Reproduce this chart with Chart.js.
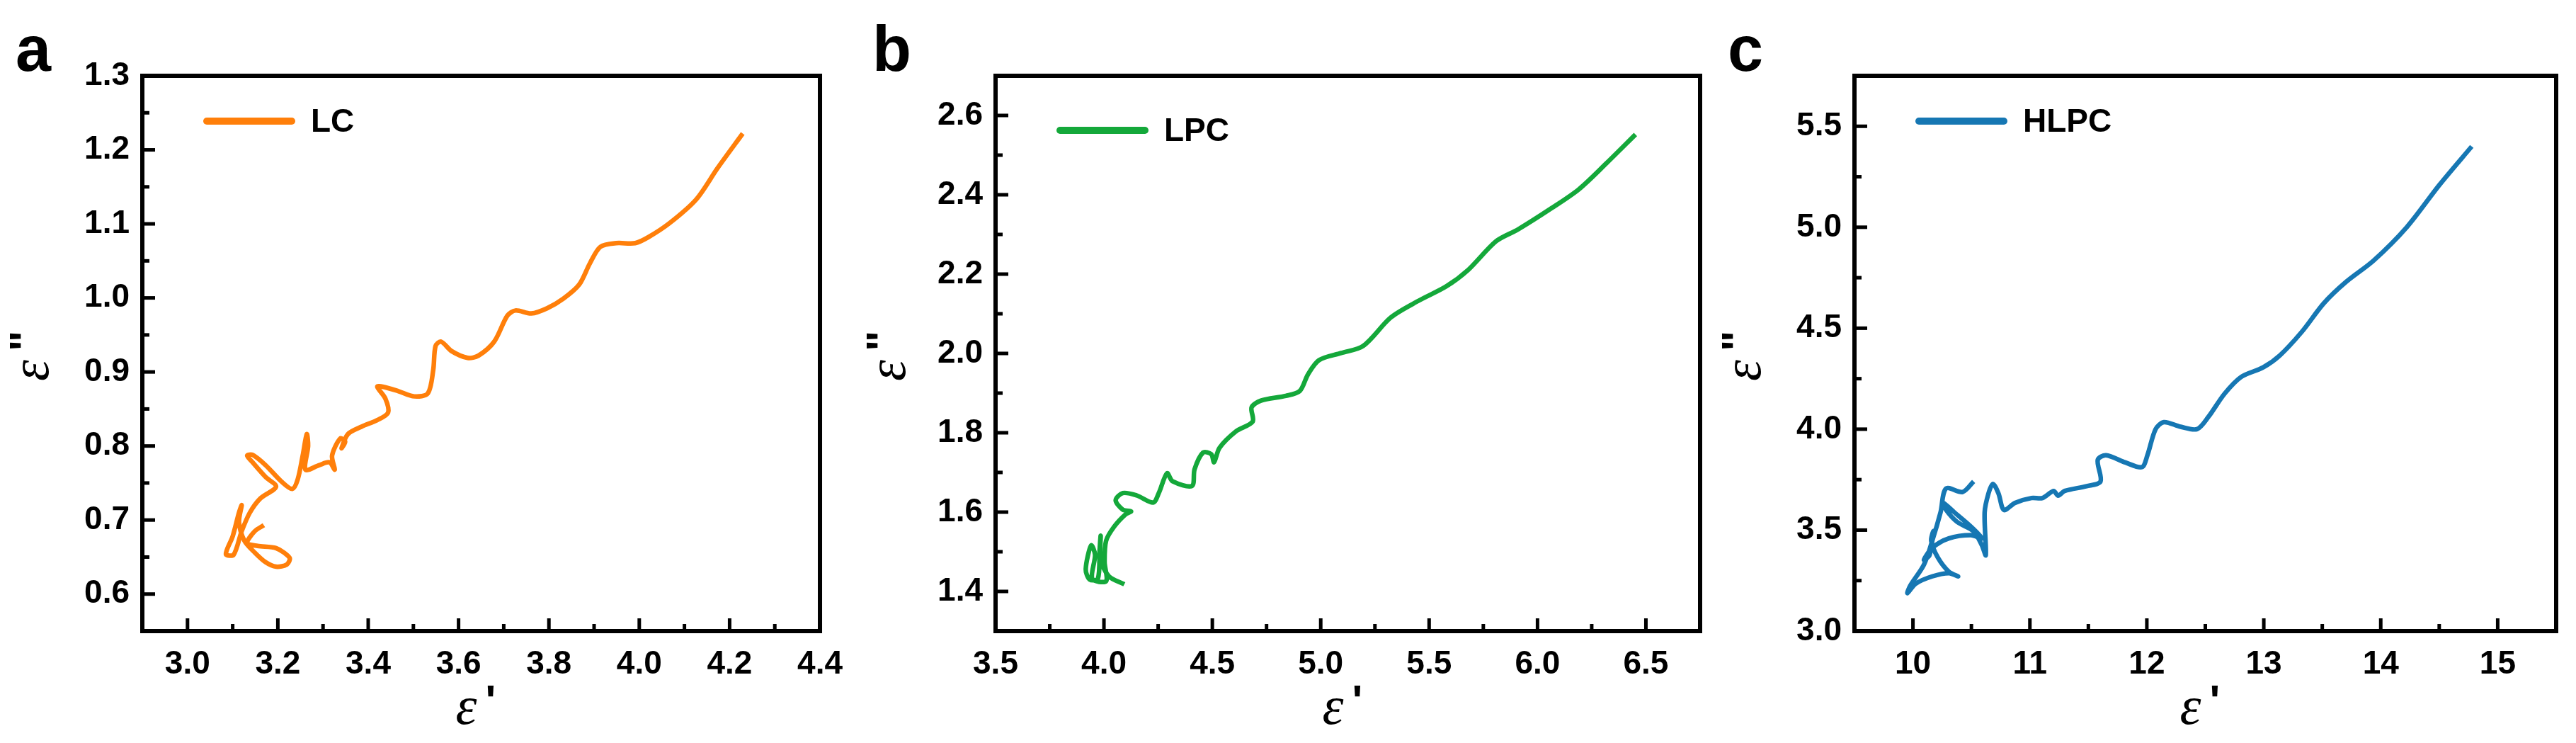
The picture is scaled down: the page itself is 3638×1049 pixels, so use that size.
<!DOCTYPE html>
<html><head><meta charset="utf-8">
<script src="https://cdn.jsdelivr.net/npm/chart.js@4"></script>
<style>body{margin:0;background:#fff;width:3638px;height:1049px;position:relative;overflow:hidden}
.p{position:absolute;top:0;height:1049px}</style></head><body>
<div class="p" style="left:0;width:1210px"><canvas id="ca"></canvas></div>
<div class="p" style="left:1210px;width:1210px"><canvas id="cb"></canvas></div>
<div class="p" style="left:2418px;width:1220px"><canvas id="cc"></canvas></div>
<script>
// Panel a (LC)
const lcX=[3.169,3.149,3.132,3.155,3.196,3.226,3.220,3.196,3.173,3.149,3.126,3.114,3.120,3.114,3.100,3.085,3.102,3.120,3.138,3.161,3.196,3.173,3.144,3.132,3.144,3.173,3.208,3.232,3.244,3.255,3.264,3.267,3.261,3.291,3.314,3.326,3.320,3.338,3.349,3.341,3.355,3.385,3.420,3.444,3.438,3.420,3.432,3.467,3.502,3.532,3.544,3.549,3.561,3.585,3.620,3.644,3.679,3.708,3.726,3.761,3.796,3.832,3.867,3.891,3.914,3.949,3.991,4.020,4.067,4.126,4.173,4.229];
const lcY=[0.693,0.685,0.669,0.665,0.662,0.649,0.640,0.637,0.643,0.656,0.672,0.697,0.720,0.710,0.678,0.654,0.653,0.685,0.710,0.729,0.745,0.758,0.778,0.787,0.788,0.774,0.752,0.742,0.755,0.787,0.816,0.800,0.768,0.774,0.778,0.768,0.787,0.810,0.806,0.797,0.816,0.826,0.835,0.845,0.864,0.880,0.880,0.874,0.867,0.871,0.903,0.935,0.941,0.928,0.919,0.922,0.941,0.976,0.983,0.979,0.986,0.999,1.018,1.047,1.069,1.074,1.074,1.082,1.101,1.133,1.175,1.222];
// Panel b (LPC)
const lpcX=[4.094,4.023,3.985,3.985,3.980,3.972,3.934,3.916,3.941,3.959,3.946,4.010,4.003,4.010,4.048,4.099,4.125,4.087,4.054,4.087,4.151,4.227,4.253,4.291,4.316,4.406,4.418,4.457,4.495,4.508,4.533,4.610,4.686,4.681,4.724,4.839,4.903,4.941,4.992,5.094,5.196,5.324,5.452,5.579,5.681,5.809,5.911,6.064,6.191,6.319,6.452];
const lpcY=[1.418,1.438,1.480,1.540,1.504,1.432,1.430,1.456,1.516,1.492,1.432,1.426,1.474,1.528,1.564,1.594,1.602,1.606,1.630,1.648,1.642,1.624,1.648,1.698,1.678,1.666,1.708,1.750,1.746,1.726,1.762,1.804,1.828,1.864,1.881,1.893,1.905,1.947,1.983,2.001,2.019,2.091,2.133,2.169,2.211,2.283,2.313,2.366,2.414,2.480,2.552];
// Panel c (HLPC)
const hlpcX=[10.519,10.425,10.283,10.236,10.165,10.094,9.976,9.953,10.024,10.165,10.307,10.387,10.307,10.212,10.156,10.175,10.142,10.094,10.165,10.307,10.495,10.590,10.495,10.354,10.259,10.283,10.377,10.519,10.590,10.623,10.613,10.646,10.684,10.731,10.778,10.873,11.014,11.108,11.203,11.241,11.297,11.486,11.604,11.580,11.651,11.816,11.958,12.005,12.075,12.146,12.288,12.429,12.524,12.665,12.807,12.995,13.137,13.325,13.514,13.703,13.939,14.222,14.505,14.778];
const hlpcY=[3.741,3.689,3.706,3.588,3.447,3.329,3.224,3.188,3.235,3.271,3.287,3.271,3.294,3.365,3.447,3.494,3.376,3.353,3.412,3.459,3.475,3.459,3.518,3.588,3.635,3.600,3.541,3.494,3.424,3.376,3.588,3.682,3.729,3.682,3.600,3.635,3.659,3.659,3.694,3.671,3.694,3.718,3.741,3.847,3.871,3.835,3.812,3.871,4.000,4.035,4.012,4.000,4.059,4.176,4.259,4.306,4.365,4.482,4.624,4.729,4.835,5.000,5.212,5.400];
// Tick labels
const xTicksA=[3.0,3.2,3.4,3.6,3.8,4.0,4.2,4.4], yTicksA=[0.6,0.7,0.8,0.9,1.0,1.1,1.2,1.3];
const xTicksB=[3.5,4.0,4.5,5.0,5.5,6.0,6.5], yTicksB=[1.4,1.6,1.8,2.0,2.2,2.4,2.6];
const xTicksC=[10,11,12,13,14,15], yTicksC=[3.0,3.5,4.0,4.5,5.0,5.5];

const FONT='"Liberation Sans", Arial, sans-serif';
function make(id,cfg){
  const pts=cfg.xs.map((x,i)=>({x,y:cfg.ys[i]}));
  const deco={id:'deco',afterDraw(ch){
    const c=ch.ctx,a=ch.chartArea,xs=ch.scales.x,ys=ch.scales.y;
    c.save();c.strokeStyle='#000';c.lineWidth=6;
    c.strokeRect(a.left,a.top,a.right-a.left,a.bottom-a.top);
    c.lineWidth=5;
    const xm=cfg.xt, ym=cfg.yt, xs2=(xm[1]-xm[0])/2, ys2=(ym[1]-ym[0])/2;
    for(let v=xm[0]-xs2;v<=xs.max+1e-9;v+=xs2){if(v<xs.min-1e-9)continue;
      const major=xm.some(t=>Math.abs(t-v)<1e-6);const p=xs.getPixelForValue(v);
      c.beginPath();c.moveTo(p,a.bottom);c.lineTo(p,a.bottom-(major?18:10));c.stroke();}
    for(let v=ym[0]-ys2;v<=ys.max+1e-9;v+=ys2){if(v<ys.min-1e-9)continue;
      const major=ym.some(t=>Math.abs(t-v)<1e-6);const p=ys.getPixelForValue(v);
      c.beginPath();c.moveTo(a.left,p);c.lineTo(a.left+(major?18:10),p);c.stroke();}
    // legend
    c.strokeStyle=cfg.color;c.lineWidth=10;c.lineCap='round';
    c.beginPath();c.moveTo(a.left+91,cfg.legY);c.lineTo(a.left+211,cfg.legY);c.stroke();
    c.fillStyle='#000';c.font='bold 46px '+FONT;c.textBaseline='middle';c.textAlign='left';
    c.fillText(cfg.name,a.left+238,cfg.legY+2);
    // panel letter
    c.font='bold 90px '+FONT;c.textBaseline='alphabetic';
    c.fillText(cfg.letter,22,100);
    // axis titles
    const title=(x,y,mark)=>{
      c.font='italic 76px "Liberation Serif", serif';c.textAlign='right';c.fillText('\u03B5',x+4,y);
      c.font='bold 62px '+FONT;c.textAlign='left';c.fillText(mark,x+16,y-12);};
    title((a.left+a.right)/2-10,1022,"'");
    c.translate(68,502);c.rotate(-Math.PI/2);title(-10,0,'"');
    c.restore();}};
  new Chart(document.getElementById(id),{type:'line',
    data:{datasets:[{data:pts,borderColor:cfg.color,borderWidth:6.5,pointRadius:0,tension:0.3,fill:false}]},
    options:{responsive:true,maintainAspectRatio:false,animation:false,
      layout:{padding:{left:0,right:cfg.rp,top:107,bottom:0}},
      plugins:{legend:{display:false},tooltip:{enabled:false}},
      scales:{
        x:{type:'linear',min:cfg.xmin,max:cfg.xmax,grid:{display:false,drawTicks:false},border:{display:false},
          afterBuildTicks:s=>{s.ticks=cfg.xt.map(v=>({value:v}));},
          afterFit:s=>{s.height=158;},
          ticks:{padding:20,color:'#000',font:{family:FONT,weight:'bold',size:46},callback:v=>cfg.xd?v.toFixed(cfg.xd):String(v)}},
        y:{type:'linear',min:cfg.ymin,max:cfg.ymax,grid:{display:false,drawTicks:false},border:{display:false},
          afterBuildTicks:s=>{s.ticks=cfg.yt.map(v=>({value:v}));},
          afterFit:s=>{s.width=cfg.lw;},
          ticks:{padding:18,color:'#000',font:{family:FONT,weight:'bold',size:46},callback:v=>v.toFixed(1)}}}},
    plugins:[deco]});
}
make('ca',{xs:lcX,ys:lcY,xt:xTicksA,yt:yTicksA,xmin:2.9,xmax:4.4,ymin:0.55,ymax:1.3,color:'#FF7F0A',name:'LC',letter:'a',rp:20,lw:201,legY:171,xd:1});
make('cb',{xs:lpcX,ys:lpcY,xt:xTicksB,yt:yTicksB,xmin:3.5,xmax:6.75,ymin:1.3,ymax:2.7,color:'#14A83A',name:'LPC',letter:'b',rp:19,lw:196,legY:184,xd:1});
make('cc',{xs:hlpcX,ys:hlpcY,xt:xTicksC,yt:yTicksC,xmin:9.5,xmax:15.5,ymin:3.0,ymax:5.75,color:'#1677B3',name:'HLPC',letter:'c',rp:28,lw:201,legY:171,xd:0});
</script></body></html>
